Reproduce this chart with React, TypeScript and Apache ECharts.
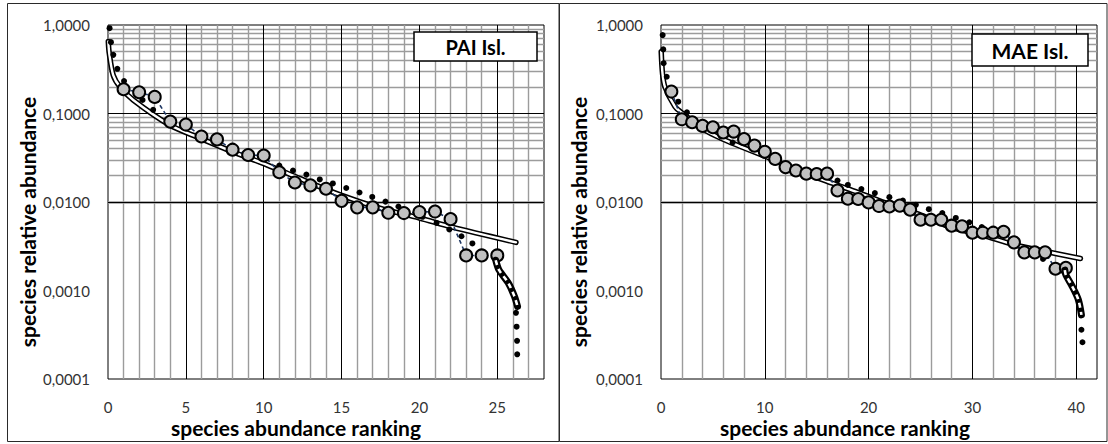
import React, { useEffect, useRef } from "react";
import * as echarts from "echarts";

// ---------- PAI Isl. (left panel) ----------
const paiObsRank = [1, 2, 3, 4, 5, 6, 7, 8, 9, 10, 11, 12, 13, 14, 15, 16, 17, 18, 19, 20, 21, 22, 23, 24, 25];
const paiObsValue = [0.188, 0.174, 0.154, 0.081, 0.075, 0.055, 0.051, 0.039, 0.034, 0.0335, 0.0217, 0.0166, 0.0154, 0.0141, 0.0103, 0.0087, 0.0087, 0.00755, 0.0075, 0.0077, 0.0078, 0.0064, 0.00249, 0.00249, 0.00249];
const paiDotRank = [0.1, 0.19, 0.34, 0.6, 1.03, 2.22, 2.9, 11.0, 11.88, 12.74, 13.6, 14.44, 15.3, 16.15, 16.97, 17.82, 18.65, 20.2, 21.1, 21.92, 22.7, 23.4, 26.2, 26.24, 26.27, 26.28];
const paiDotValue = [0.92, 0.64, 0.46, 0.32, 0.233, 0.142, 0.11, 0.0258, 0.0227, 0.0204, 0.018, 0.0162, 0.0144, 0.0128, 0.0114, 0.0101, 0.0089, 0.0068, 0.0058, 0.0049, 0.0041, 0.0034, 0.00056, 0.00039, 0.00027, 0.00019];
const paiFitRank = [0.02, 0.08, 0.34, 0.77, 1.62, 3.97, 5.9, 8.0, 10.2, 12.3, 14.87, 17.4, 20.0, 22.1, 26.2];
const paiFitValue = [0.65, 0.48, 0.27, 0.2, 0.142, 0.074, 0.0527, 0.037, 0.0263, 0.0185, 0.0121, 0.0086, 0.0066, 0.0052, 0.0035];
const paiTailRank = [24.9, 25.1, 25.7, 26.1, 26.3];
const paiTailValue = [0.0022, 0.00172, 0.00122, 0.00086, 0.00066];

// ---------- MAE Isl. (right panel) ----------
const maeObsRank = [1, 2, 3, 4, 5, 6, 7, 8, 9, 10, 11, 12, 13, 14, 15, 16, 17, 18, 19, 20, 21, 22, 23, 24, 25, 26, 27, 28, 29, 30, 31, 32, 33, 34, 35, 36, 37, 38, 39];
const maeObsValue = [0.177, 0.086, 0.0797, 0.0724, 0.07, 0.061, 0.0625, 0.0513, 0.0434, 0.037, 0.0307, 0.0248, 0.0227, 0.0209, 0.0207, 0.0209, 0.0135, 0.0109, 0.0108, 0.0099, 0.009, 0.0089, 0.0091, 0.0082, 0.0063, 0.0063, 0.0063, 0.0054, 0.0053, 0.0045, 0.0045, 0.0045, 0.0046, 0.0035, 0.0027, 0.0027, 0.0027, 0.00176, 0.0018];
const maeDotRank = [0.16, 0.22, 0.25, 0.55, 1.66, 2.5, 5.8, 6.9, 17.0, 18.0, 19.3, 20.6, 22.0, 23.3, 24.55, 25.8, 27.1, 28.4, 29.7, 30.9, 36.8, 40.5, 40.6];
const maeDotValue = [0.77, 0.53, 0.37, 0.26, 0.136, 0.103, 0.055, 0.047, 0.0175, 0.0156, 0.014, 0.0126, 0.01135, 0.0104, 0.0093, 0.0083, 0.0075, 0.0066, 0.0059, 0.0052, 0.00227, 0.00036, 0.00026];
const maeFitRank = [0.02, 0.15, 0.38, 1.34, 2.1, 4.4, 6.9, 10.1, 13.3, 16.5, 19.0, 21.9, 24.8, 27.7, 31.0, 34.0, 36.8, 40.4];
const maeFitValue = [0.5, 0.28, 0.2, 0.12, 0.1, 0.063, 0.046, 0.0326, 0.0225, 0.0163, 0.0128, 0.0095, 0.0073, 0.0053, 0.0042, 0.0033, 0.0028, 0.0023];
const maeTailRank = [38.9, 39.0, 39.6, 40.2, 40.5];
const maeTailValue = [0.0017, 0.0015, 0.00112, 0.00079, 0.00053];

// ---------- axes ----------
const paiXMax = 28;
const paiXMajor = 5;
const paiXMinor = 1;
const maeXMax = 42;
const maeXMajor = 10;
const maeXMinor = 2;
const yMin = 0.0001;
const yMax = 1;
const yDecades = [0.1, 0.01, 0.001];
const yMinorFactors = [2, 3, 4, 5, 6, 7, 8, 9];
const yMinorDecades = [0.0001, 0.001, 0.01, 0.1];

const panelTitles = ["PAI Isl.", "MAE Isl."];
const xTitle = "species abundance ranking";
const yTitle = "species relative abundance";

const FONT = "Lato, 'Open Sans', sans-serif";

const zip = (xs: number[], ys: number[]) => xs.map((x, i) => [x, ys[i]]);

function gridSeries(idx: number, xMax: number, major: number, minor: number) {
  const xMinorVals: number[] = [];
  const xMajorVals: number[] = [];
  for (let v = minor; v < xMax; v += minor) {
    if (Math.abs(v % major) < 1e-9) xMajorVals.push(v);
    else xMinorVals.push(v);
  }
  const yMinorVals: number[] = [];
  yMinorDecades.forEach((d) => yMinorFactors.forEach((f) => yMinorVals.push(f * d)));
  const common = {
    type: "line",
    xAxisIndex: idx,
    yAxisIndex: idx,
    data: [],
    symbol: "none",
    silent: true,
  };
  return [
    {
      ...common,
      name: "minorGrid" + idx,
      z: 0,
      markLine: {
        silent: true,
        z: 0,
        symbol: ["none", "none"],
        label: { show: false },
        emphasis: { disabled: true },
        lineStyle: { color: "#9C9C9C", width: 1.4, type: "solid" },
        data: [...xMinorVals.map((v) => ({ xAxis: v })), ...yMinorVals.map((v) => ({ yAxis: v }))],
      },
    },
    {
      ...common,
      name: "majorGrid" + idx,
      z: 1,
      markLine: {
        silent: true,
        z: 1,
        symbol: ["none", "none"],
        label: { show: false },
        emphasis: { disabled: true },
        lineStyle: { color: "#000000", width: 1, type: "solid" },
        data: [...xMajorVals.map((v) => ({ xAxis: v })), ...yDecades.map((v) => ({ yAxis: v }))],
      },
    },
  ];
}

function dataSeries(idx: number, obs: number[][], dots: number[][], fit: number[][], tail: number[][]) {
  const base = { xAxisIndex: idx, yAxisIndex: idx, silent: true };
  return [
    {
      ...base,
      type: "line",
      data: fit,
      smooth: 0.3,
      symbol: "none",
      z: 3,
      lineStyle: { color: "#000", width: 5.5, cap: "round" },
    },
    {
      ...base,
      type: "line",
      data: fit,
      smooth: 0.3,
      symbol: "none",
      z: 3,
      lineStyle: { color: "#fff", width: 2.4, cap: "round" },
    },
    {
      ...base,
      type: "scatter",
      data: dots,
      symbol: "circle",
      symbolSize: 6,
      z: 4,
      itemStyle: { color: "#000", opacity: 1 },
    },
    {
      ...base,
      type: "line",
      data: obs,
      symbol: "circle",
      symbolSize: 12,
      z: 5,
      itemStyle: { color: "#C0C0C0", borderColor: "#000", borderWidth: 2, opacity: 1 },
      lineStyle: { color: "#1F3864", width: 1.6, type: [4, 3] },
    },
    {
      ...base,
      type: "line",
      data: tail,
      smooth: 0.3,
      symbol: "none",
      z: 6,
      lineStyle: { color: "#000", width: 7, cap: "round" },
    },
    {
      ...base,
      type: "line",
      data: tail,
      smooth: 0.3,
      symbol: "none",
      z: 6,
      lineStyle: { color: "#fff", width: 2.6, type: [5, 4] },
    },
  ];
}

function xAxis(idx: number, xMax: number, major: number) {
  return {
    type: "value",
    gridIndex: idx,
    min: 0,
    max: xMax,
    interval: major,
    splitLine: { show: false },
    axisLine: { show: false },
    axisTick: { show: false },
    axisLabel: {
      margin: 20,
      fontSize: 15,
      fontFamily: FONT,
      color: "#333",
      formatter: (v: number) => (Math.abs(v % major) < 1e-9 ? String(v) : ""),
    },
  };
}

function yAxis(idx: number) {
  return {
    type: "log",
    logBase: 10,
    gridIndex: idx,
    min: yMin,
    max: yMax,
    splitLine: { show: false },
    axisLine: { show: false },
    axisTick: { show: false },
    axisLabel: {
      margin: 18,
      fontSize: 15,
      fontFamily: FONT,
      color: "#333",
      showMinLabel: true,
      showMaxLabel: true,
      formatter: (v: number) => v.toFixed(4).replace(".", ","),
    },
  };
}

export default function App() {
  const ref = useRef<HTMLDivElement>(null);
  useEffect(() => {
    if (!ref.current) return;
    const chart = echarts.init(ref.current, undefined, { renderer: "svg" });
    const titleStyle = { fontFamily: FONT, fontWeight: "bold", fontSize: 21, fill: "#000" };
    const option: any = {
      animation: false,
      grid: [
        { left: 108, top: 25, width: 436, height: 354, show: true, borderColor: "#000", borderWidth: 1, backgroundColor: "transparent" },
        { left: 661, top: 25, width: 436, height: 354, show: true, borderColor: "#000", borderWidth: 1, backgroundColor: "transparent" },
      ],
      xAxis: [xAxis(0, paiXMax, paiXMajor), xAxis(1, maeXMax, maeXMajor)],
      yAxis: [yAxis(0), yAxis(1)],
      series: [
        ...gridSeries(0, paiXMax, paiXMajor, paiXMinor),
        ...gridSeries(1, maeXMax, maeXMajor, maeXMinor),
        ...dataSeries(0, zip(paiObsRank, paiObsValue), zip(paiDotRank, paiDotValue), zip(paiFitRank, paiFitValue), zip(paiTailRank, paiTailValue)),
        ...dataSeries(1, zip(maeObsRank, maeObsValue), zip(maeDotRank, maeDotValue), zip(maeFitRank, maeFitValue), zip(maeTailRank, maeTailValue)),
      ],
      graphic: [
        { type: "rect", z: 100, silent: true, shape: { x: 7.5, y: 3.5, width: 551.5, height: 438 }, style: { fill: "none", stroke: "#2a2a2a", lineWidth: 1 } },
        { type: "rect", z: 100, silent: true, shape: { x: 559.5, y: 3.5, width: 547.5, height: 438 }, style: { fill: "none", stroke: "#2a2a2a", lineWidth: 1 } },
        { type: "rect", z: 100, silent: true, shape: { x: 414, y: 32, width: 123, height: 29 }, style: { fill: "#fff", stroke: "#000", lineWidth: 1.5 } },
        { type: "text", z: 101, silent: true, x: 475.5, y: 46.5, style: { text: panelTitles[0], fontFamily: FONT, fontWeight: "bold", fontSize: 20, fill: "#000", align: "center", verticalAlign: "middle" } },
        { type: "rect", z: 100, silent: true, shape: { x: 972, y: 34, width: 116, height: 32 }, style: { fill: "#fff", stroke: "#000", lineWidth: 1.5 } },
        { type: "text", z: 101, silent: true, x: 1030, y: 50, style: { text: panelTitles[1], fontFamily: FONT, fontWeight: "bold", fontSize: 21, fill: "#000", align: "center", verticalAlign: "middle" } },
        { type: "text", z: 101, silent: true, x: 296, y: 427, style: { ...titleStyle, text: xTitle, align: "center", verticalAlign: "middle" } },
        { type: "text", z: 101, silent: true, x: 845, y: 427, style: { ...titleStyle, text: xTitle, align: "center", verticalAlign: "middle" } },
        { type: "text", z: 101, silent: true, x: 27, y: 222, rotation: Math.PI / 2, style: { ...titleStyle, text: yTitle, align: "center", verticalAlign: "middle" } },
        { type: "text", z: 101, silent: true, x: 578, y: 222, rotation: Math.PI / 2, style: { ...titleStyle, text: yTitle, align: "center", verticalAlign: "middle" } },
      ],
    };
    chart.setOption(option);
    return () => chart.dispose();
  }, []);
  return <div ref={ref} style={{ position: "absolute", left: 0, top: 0, width: 1108, height: 444, background: "#fff" }} />;
}
